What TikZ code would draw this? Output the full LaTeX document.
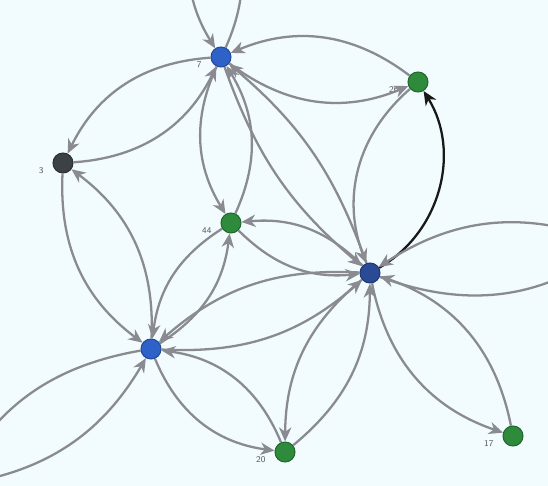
\documentclass[tikz,border=0pt]{standalone}
\usepackage{tikz}
\usetikzlibrary{arrows.meta,calc}
\usepackage{xcolor}

\definecolor{bgcol}{HTML}{F2FBFE}
\definecolor{edgecol}{HTML}{8A8B91}
\definecolor{vblue}{HTML}{2F62C8}
\definecolor{vnavy}{HTML}{2B4A96}
\definecolor{vgreen}{HTML}{2E8B3C}
\definecolor{vgray}{HTML}{3C4146}

\begin{document}
\begin{tikzpicture}[
  x=0.02cm, y=-0.02cm,
  vertex/.style={circle, draw=#1!75!black, fill=#1, line width=0.6pt, minimum size=0.4cm, inner sep=0pt},
  lbl/.style={font=\sffamily\fontsize{5}{6}\selectfont, text=black!65, inner sep=1pt, label distance=4pt},
  arrow/.style={-{Stealth[length=8pt,width=7pt,inset=2.5pt]}, draw=edgecol, line width=1.3pt},
  strong/.style={-{Stealth[length=8pt,width=7pt,inset=2.5pt]}, draw=black!90, line width=1.3pt}
]

\fill[bgcol] (0,0) rectangle (548,486);
\useasboundingbox (0,0) rectangle (548,486);

\node[vertex=vblue]  (n7)  at (221,57)  [label={[lbl]190:7}] {};
\node[vertex=vgreen] (n26) at (418,82)  [label={[lbl]188:26}] {};
\node[vertex=vgray]  (n3)  at (63,163)  [label={[lbl]188:3}] {};
\node[vertex=vgreen] (n44) at (231,223) [label={[lbl]188:44}] {};
\node[vertex=vnavy]  (hub) at (370,273) {};
\node[vertex=vblue]  (low) at (151,349) {};
\node[vertex=vgreen] (n20) at (285,452) [label={[lbl]188:20}] {};
\node[vertex=vgreen] (n17) at (513,436) [label={[lbl]188:17}] {};

% neighbours outside the frame
\coordinate (up)    at (210,-110);
\coordinate (right) at (615,245);
\coordinate (left)  at (-45,485);

\draw[arrow] (n7) to[bend right=30] (n26);
\draw[arrow] (n26) to[bend right=30] (n7);
\draw[arrow] (n7) to[bend right=30] (n3);
\draw[arrow] (n3) to[bend right=30] (n7);
\draw[arrow] (n7) to[bend right=28] (n44);
\draw[arrow] (n44) to[bend right=28] (n7);
\draw[arrow] (n7) to[bend right=15] (hub);
\draw[arrow] (hub) to[bend right=15] (n7);
\draw[arrow] (up) to[bend right=30] (n7);
\draw[arrow] (n7) to[bend right=30] (up);

\draw[arrow] (n26) to[bend right=35] (hub);
\draw[strong] (hub) to[bend right=46] (n26);

\draw[arrow] (n3) to[bend right=28] (low);
\draw[arrow] (low) to[bend right=28] (n3);

\draw[arrow] (n44) to[bend right=25] (low);
\draw[arrow] (low) to[bend right=25] (n44);
\draw[arrow] (n44) to[bend right=25] (hub);
\draw[arrow] (hub) to[bend right=25] (n44);

\draw[arrow] (low) to[bend right=22] (hub);
\draw[arrow] (hub) to[bend right=22] (low);
\draw[arrow] (low) to[bend right=30] (n20);
\draw[arrow] (n20) to[bend right=30] (low);
\draw[arrow] (low) to[bend right=26] (left);
\draw[arrow] (left) to[bend right=26] (low);

\draw[arrow] (hub) to[bend right=25] (n20);
\draw[arrow] (n20) to[bend right=25] (hub);
\draw[arrow] (hub) to[bend right=30] (n17);
\draw[arrow] (n17) to[bend right=30] (hub);
\draw[arrow] (hub) to[bend right=28] (right);
\draw[arrow] (right) to[bend right=28] (hub);

\end{tikzpicture}
\end{document}
